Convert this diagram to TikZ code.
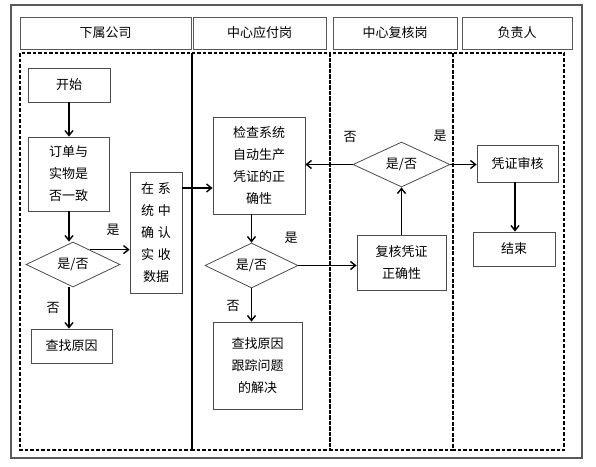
\documentclass[tikz,border=0pt]{standalone}
\usepackage{fontspec}
\setmainfont{Noto Sans CJK SC}
\usetikzlibrary{arrows.meta,shapes.geometric,calc}
\tikzset{
  box/.style={draw=black!70, line width=0.8pt, inner sep=0pt, align=center, font=\fontsize{13}{22}\selectfont},
  hdr/.style={draw=black!65, line width=0.9pt, inner sep=0pt, font=\fontsize{13}{16}\selectfont},
  dec/.style={diamond, draw=black!70, line width=0.8pt, inner sep=0pt, font=\fontsize{13}{16}\selectfont},
  arr/.style={-{Straight Barb[length=5pt,width=8pt]}, line width=1.4pt, black},
  lane/.style={draw=black, line width=1.1pt, dash pattern=on 3.5pt off 2pt},
  lbl/.style={font=\fontsize{13}{16}\selectfont, inner sep=0pt}
}
\begin{document}
\begin{tikzpicture}[x=1pt,y=-1pt]
\useasboundingbox (0,0) rectangle (596,466);
% outer frame
\draw[black!65, line width=1.1pt] (11,5) rectangle (582,458);
% headers
\node[hdr, minimum width=171pt, minimum height=32pt] (h1) at (105.5,33) {下属公司};
\node[hdr, minimum width=133pt, minimum height=32pt] (h2) at (259.5,33) {中心应付岗};
\node[hdr, minimum width=124pt, minimum height=32pt] (h3) at (395,33) {中心复核岗};
\node[hdr, minimum width=110pt, minimum height=32pt] (h4) at (517,33) {负责人};
% lanes
\draw[lane] (20,53) rectangle (192,450);
\draw[lane] (192,53) rectangle (330,450);
\draw[lane] (330,53) rectangle (453,450);
\draw[lane] (453,53) rectangle (564,450);
\draw[black, line width=1.3pt] (192,53) -- (192,450);
% nodes
\node[box, minimum width=82pt, minimum height=34pt] (start) at (69,85) {开始};
\node[box, minimum width=81pt, minimum height=74pt] (dd) at (68.5,174) {订单与\\实物是\\否一致};
\node[dec, minimum width=94pt, minimum height=45pt] (d1) at (73,264.5) {是/否};
\node[box, minimum width=81pt, minimum height=34pt] (zy1) at (71.5,346) {查找原因};
\node[box, minimum width=52pt, minimum height=121pt] (zx) at (156,232.5) {在\hspace{4pt}系\\统\hspace{4pt}中\\确\hspace{4pt}认\\实\hspace{4pt}收\\数据};
\node[box, minimum width=92pt, minimum height=97pt] (jc) at (259,165.5) {检查系统\\自动生产\\凭证的正\\确性};
\node[dec, minimum width=93pt, minimum height=45pt] (d2) at (251.5,265.5) {是/否};
\node[box, minimum width=89pt, minimum height=87pt] (zy2) at (257.5,365.5) {查找原因\\跟踪问题\\的解决};
\node[box, minimum width=89pt, minimum height=55pt] (fh) at (401.5,262.5) {复核凭证\\正确性};
\node[dec, minimum width=97pt, minimum height=45pt] (d3) at (401.5,164.5) {是/否};
\node[box, minimum width=81pt, minimum height=37pt] (pz) at (517.5,163.5) {凭证审核};
\node[box, minimum width=82pt, minimum height=34pt] (end) at (514,249) {结束};
% labels
\node[lbl] (l1) at (113,230) {是};
\node[lbl] (l2) at (53,308) {否};
\node[lbl] (l3) at (291,238) {是};
\node[lbl] (l4) at (233,306) {否};
\node[lbl] (l5) at (350,137) {否};
\node[lbl] (l6) at (440,136) {是};
% connectors
\coordinate (y188) at (0,188);
\coordinate (p1) at ($(d1.north)!0.35!(d1.east)$);
\draw[arr] (start.south) -- (start.south |- dd.north);
\draw[arr] (start.south |- dd.south) -- (start.south |- d1.north);
\draw[arr] (start.south |- d1.south) -- (start.south |- zy1.north);
\draw[arr] (p1) -- (p1 -| zx.west);
\draw[arr] (zx.east |- y188) -- (jc.west |- y188);
\draw[arr] (d2.north |- jc.south) -- (d2.north);
\draw[arr] (d2.south) -- (d2.south |- zy2.north);
\draw[arr] (d2.east) -- (d2.east -| fh.west);
\draw[arr] (fh.north) -- (d3.south);
\draw[arr] (d3.west) -- (d3.west -| jc.east);
\draw[arr] (d3.east) -- (d3.east -| pz.west);
\draw[arr] (end.north -| pz.south) ++(-2.5,0) coordinate (q) (pz.south -| q) -- (q);
\end{tikzpicture}
\end{document}
